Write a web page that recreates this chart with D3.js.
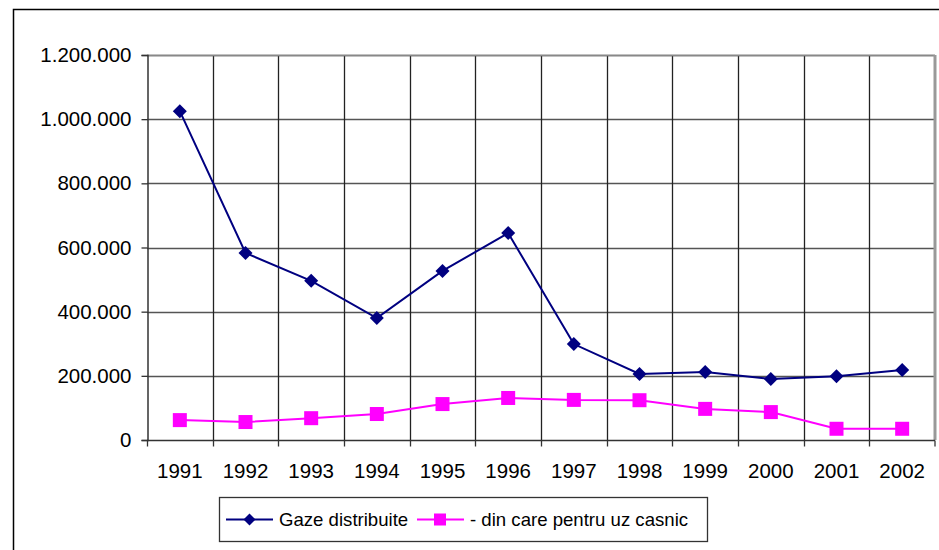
<!DOCTYPE html>
<html>
<head>
<meta charset="utf-8">
<script src="https://cdn.jsdelivr.net/npm/d3@7"></script>
<style>
  html, body { margin: 0; padding: 0; background: #fff; }
  svg { display: block; font-family: "Liberation Sans", Arial, sans-serif; }
</style>
</head>
<body>
<div id="chart"></div>
<script>
const years = ['1991', '1992', '1993', '1994', '1995', '1996', '1997', '1998', '1999', '2000', '2001', '2002'];
const gazeDistribuite = [1025000, 583000, 496000, 380000, 527000, 645000, 299000, 206000, 212000, 190000, 199000, 218000];
const uzCasnic = [62000, 56000, 68000, 81000, 112000, 131000, 125000, 124000, 97000, 87000, 35000, 35000];
const yTicks = [0, 200000, 400000, 600000, 800000, 1000000, 1200000];
const seriesNames = ['Gaze distribuite', '- din care pentru uz casnic'];

const width = 939;
const height = 550;
const margin = { top: 55, right: 4, bottom: 110, left: 147 };

const fmt = v => v === 0 ? '0' : d3.format(',')(v).replace(/,/g, '.');

const svg = d3.select('#chart').append('svg')
  .attr('width', width)
  .attr('height', height);

// outer chart frame
svg.append('rect')
  .attr('x', 13.5).attr('y', 9.5)
  .attr('width', width + 10).attr('height', height + 10)
  .attr('fill', 'none').attr('stroke', '#000').attr('stroke-width', 1.5);

const x = d3.scaleBand()
  .domain(years)
  .range([margin.left, width - margin.right]);

const y = d3.scaleLinear()
  .domain([0, 1200000])
  .range([height - margin.bottom, margin.top]);

const plotRight = width - margin.right;
const plotBottom = height - margin.bottom;

// horizontal gridlines
svg.append('g')
  .selectAll('line')
  .data(yTicks.filter(d => d > 0))
  .enter().append('line')
  .attr('x1', margin.left).attr('x2', plotRight)
  .attr('y1', d => Math.round(y(d)) + 0.5).attr('y2', d => Math.round(y(d)) + 0.5)
  .attr('stroke', '#555').attr('stroke-width', 1.3);

// vertical gridlines at category boundaries
svg.append('g')
  .selectAll('line')
  .data(years.slice(1))
  .enter().append('line')
  .attr('x1', d => Math.round(x(d)) + 0.5).attr('x2', d => Math.round(x(d)) + 0.5)
  .attr('y1', margin.top).attr('y2', plotBottom)
  .attr('stroke', '#222').attr('stroke-width', 1.3);

// plot area border (right side shadowed)
svg.append('line')
  .attr('x1', margin.left).attr('x2', plotRight)
  .attr('y1', margin.top + 0.5).attr('y2', margin.top + 0.5)
  .attr('stroke', '#888').attr('stroke-width', 1.5);
svg.append('line')
  .attr('x1', plotRight).attr('x2', plotRight)
  .attr('y1', margin.top).attr('y2', plotBottom)
  .attr('stroke', '#999').attr('stroke-width', 3);

// y axis
const yAxis = svg.append('g')
  .attr('transform', `translate(${margin.left + 0.5},0)`)
  .call(d3.axisLeft(y).tickValues(yTicks).tickFormat(fmt).tickSize(6).tickPadding(10));
yAxis.select('.domain').attr('stroke', '#333').attr('stroke-width', 1.5);
yAxis.selectAll('.tick line').attr('stroke', '#333').attr('stroke-width', 1.3);
yAxis.selectAll('text').attr('font-size', 20.5).attr('fill', '#000')
  .attr('font-family', '"Liberation Sans", Arial, sans-serif');

// x axis: ticks at category boundaries, labels centred
const xAxis = svg.append('g')
  .attr('transform', `translate(0,${Math.round(plotBottom) + 0.5})`);
xAxis.append('line')
  .attr('x1', margin.left).attr('x2', plotRight)
  .attr('stroke', '#333').attr('stroke-width', 1.5);
xAxis.selectAll('line.tk')
  .data(years.concat(['end']))
  .enter().append('line')
  .attr('class', 'tk')
  .attr('x1', d => d === 'end' ? plotRight : Math.round(x(d)) + 0.5)
  .attr('x2', d => d === 'end' ? plotRight : Math.round(x(d)) + 0.5)
  .attr('y1', 0).attr('y2', 6)
  .attr('stroke', '#333').attr('stroke-width', 1.3);
xAxis.selectAll('text')
  .data(years)
  .enter().append('text')
  .attr('x', d => x(d) + x.bandwidth() / 2)
  .attr('y', 37)
  .attr('text-anchor', 'middle')
  .attr('font-size', 20.5)
  .text(d => d);

const cx = d => x(d) + x.bandwidth() / 2;

const line = d3.line()
  .x((d, i) => cx(years[i]))
  .y(d => y(d));

// series 1: gaze distribuite
svg.append('path')
  .datum(gazeDistribuite)
  .attr('fill', 'none').attr('stroke', '#000080').attr('stroke-width', 2)
  .attr('d', line);
svg.append('g')
  .selectAll('path')
  .data(gazeDistribuite)
  .enter().append('path')
  .attr('d', d3.symbol(d3.symbolSquare, 98)())
  .attr('transform', (d, i) => `translate(${cx(years[i])},${y(d)}) rotate(45)`)
  .attr('fill', '#000080');

// series 2: uz casnic
svg.append('path')
  .datum(uzCasnic)
  .attr('fill', 'none').attr('stroke', '#ff00ff').attr('stroke-width', 2)
  .attr('d', line);
svg.append('g')
  .selectAll('rect')
  .data(uzCasnic)
  .enter().append('rect')
  .attr('x', (d, i) => cx(years[i]) - 7)
  .attr('y', d => y(d) - 7)
  .attr('width', 14).attr('height', 14)
  .attr('fill', '#ff00ff');

// legend
const legend = svg.append('g');
legend.append('rect')
  .attr('x', 219.5).attr('y', 497.5)
  .attr('width', 488).attr('height', 44)
  .attr('fill', '#fff').attr('stroke', '#333').attr('stroke-width', 1.3);

const legendItems = [
  { name: seriesNames[0], x0: 226, color: '#000080', shape: 'diamond' },
  { name: seriesNames[1], x0: 417, color: '#ff00ff', shape: 'square' }
];
const ly = 519.5;
legendItems.forEach(item => {
  legend.append('line')
    .attr('x1', item.x0).attr('x2', item.x0 + 47)
    .attr('y1', ly).attr('y2', ly)
    .attr('stroke', item.color).attr('stroke-width', 2);
  if (item.shape === 'diamond') {
    legend.append('path')
      .attr('d', d3.symbol(d3.symbolSquare, 72)())
      .attr('transform', `translate(${item.x0 + 23.5},${ly}) rotate(45)`)
      .attr('fill', item.color);
  } else {
    legend.append('rect')
      .attr('x', item.x0 + 17).attr('y', ly - 6)
      .attr('width', 12).attr('height', 12)
      .attr('fill', item.color);
  }
  legend.append('text')
    .attr('x', item.x0 + 53).attr('y', ly + 6.5)
    .attr('font-size', 18.6)
    .text(item.name);
});
</script>
</body>
</html>
